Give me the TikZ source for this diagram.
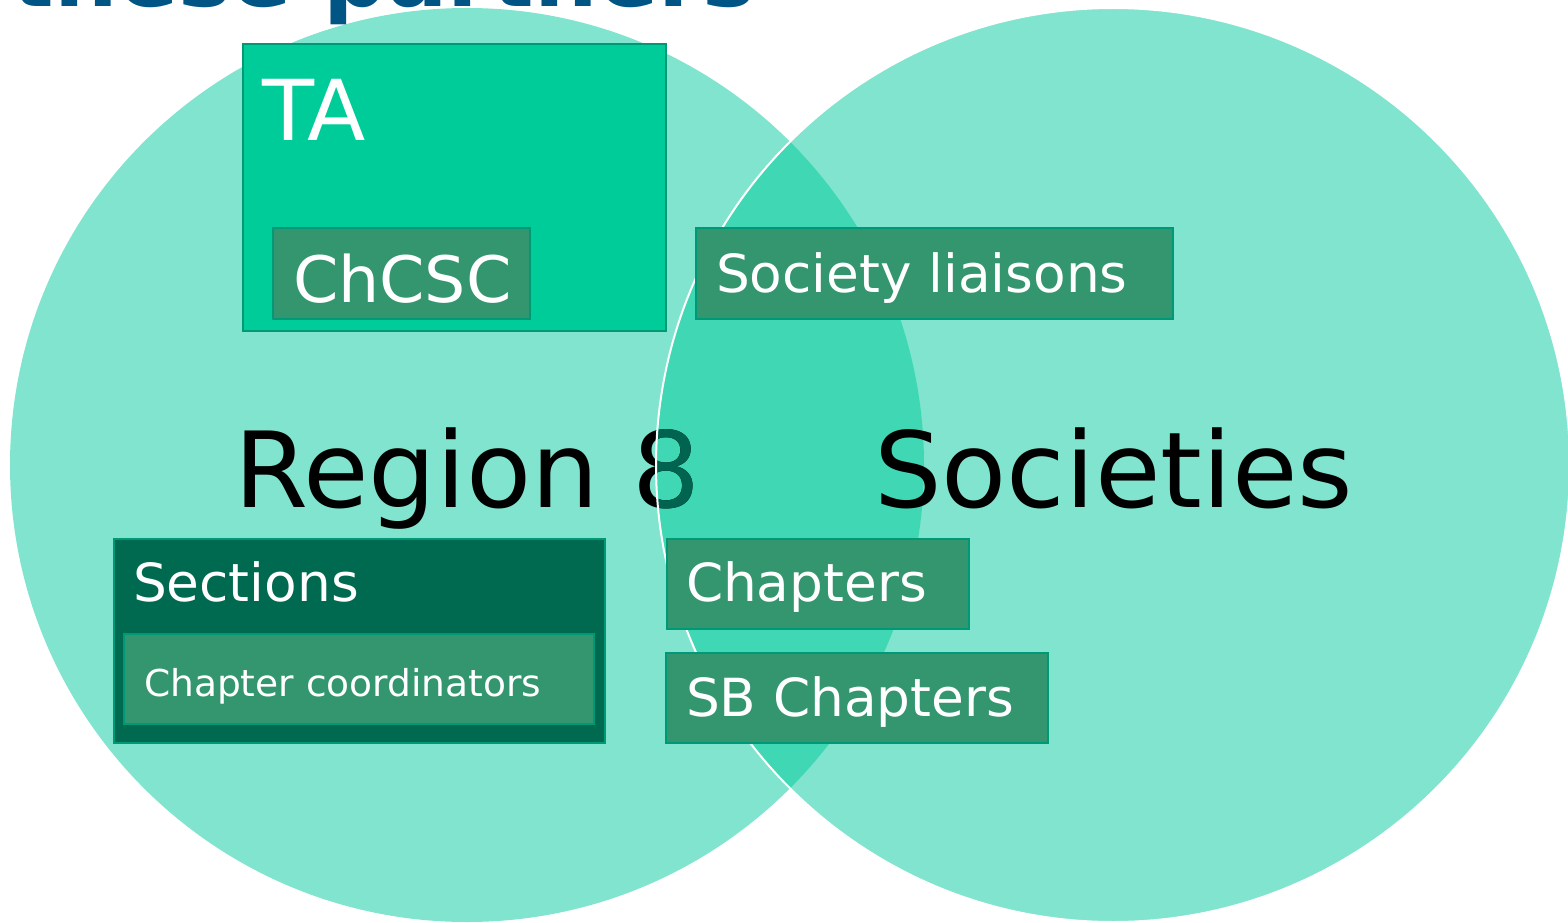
\documentclass[tikz,border=0pt]{standalone}
\usepackage{fontspec}
\setmainfont[FakeStretch=1.015]{DejaVu Sans}
\definecolor{circlec}{HTML}{80E4CE}
\definecolor{interc}{HTML}{40D8B4}
\definecolor{tac}{HTML}{00CC99}
\definecolor{smallc}{HTML}{33966E}
\definecolor{secc}{HTML}{006A50}
\definecolor{bordc}{HTML}{009977}
\definecolor{titlec}{HTML}{005585}
\definecolor{eightc}{HTML}{006450}
\tikzset{
  box/.style={draw=bordc, line width=2pt, anchor=north west, inner sep=0pt, outer sep=0pt},
  tabox/.style={box, fill=tac},
  smallbox/.style={box, fill=smallc},
  secbox/.style={box, fill=secc},
  lbl/.style={anchor=base west, inner sep=0pt, outer sep=0pt, text=white},
  big/.style={anchor=base west, inner sep=0pt, outer sep=0pt}
}
\begin{document}
\begin{tikzpicture}[x=1pt,y=-1pt]
\useasboundingbox (0,0) rectangle (1568,923);
% circles
\fill[circlec] (467,465) circle (457);
\fill[circlec] (1113,465) circle (457);
\begin{scope}
  \clip (467,465) circle (457);
  \fill[interc] (1113,465) circle (457);
\end{scope}
% title
\node[big, text=titlec, font=\fontsize{88}{100}\selectfont\bfseries] (title) at (12,7) {these partners};
% Region 8
\node[big, font=\fontsize{105}{120}\selectfont] (region) at (234,507) {Region 8};
\begin{scope}
  \clip (1113,465) circle (457);
  \node[big, text=eightc, font=\fontsize{105}{120}\selectfont] (regiong) at (234,507) {Region 8};
\end{scope}
\draw[white, line width=2pt] (1113,465) circle (457);
% boxes
\node[tabox, minimum width=423pt, minimum height=287pt] (ta) at (243,44) {};
\node[lbl, font=\fontsize{84}{94}\selectfont] (talbl) at (262,140) {TA};
\node[smallbox, minimum width=257pt, minimum height=91pt] (chcsc) at (273,228) {};
\node[lbl, font=\fontsize{64}{72}\selectfont] (chcsclbl) at (293,302) {ChCSC};
\node[smallbox, minimum width=477pt, minimum height=91pt] (soc) at (696,228) {};
\node[lbl, font=\fontsize{52.5}{60}\selectfont] (soclbl) at (716,292) {Society liaisons};
\node[secbox, minimum width=491pt, minimum height=204pt] (sec) at (114,539) {};
\node[lbl, font=\fontsize{52.5}{60}\selectfont] (seclbl) at (133,601) {Sections};
\node[smallbox, minimum width=470pt, minimum height=90pt] (coord) at (124,634) {};
\node[lbl, font=\fontsize{37}{44}\selectfont] (coordlbl) at (144,696) {Chapter coordinators};
\node[smallbox, minimum width=302pt, minimum height=90pt] (chap) at (667,539) {};
\node[lbl, font=\fontsize{52.5}{60}\selectfont] (chaplbl) at (686,601) {Chapters};
\node[smallbox, minimum width=382pt, minimum height=90pt] (sb) at (666,653) {};
\node[lbl, font=\fontsize{52.5}{60}\selectfont] (sblbl) at (686,716) {SB Chapters};
% Societies
\node[big, font=\fontsize{105}{120}\selectfont] (societies) at (874,507) {Societies};
\end{tikzpicture}
\end{document}
